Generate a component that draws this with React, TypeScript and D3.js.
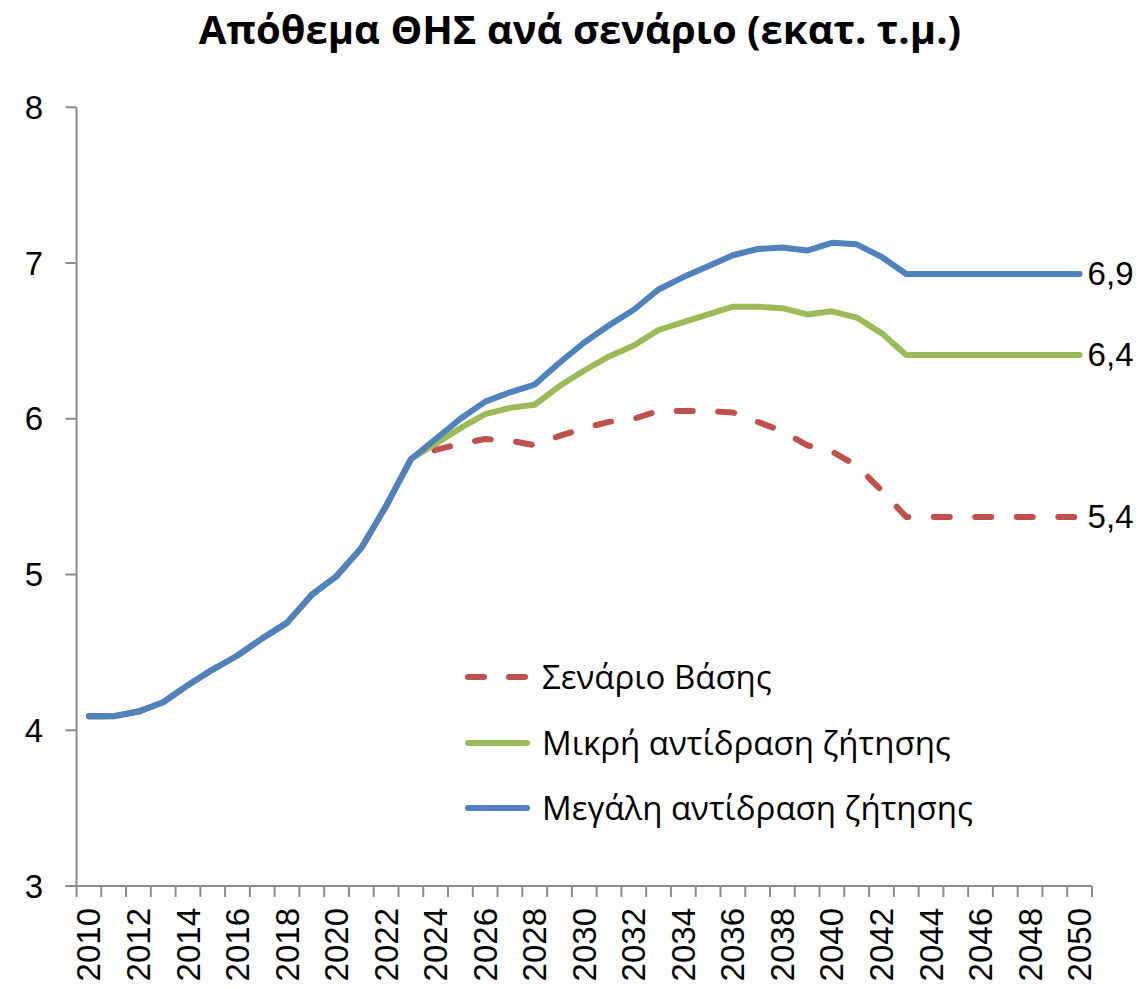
import React from "react";
import * as d3 from "d3";

const years: number[] = [
  2010, 2011, 2012, 2013, 2014, 2015, 2016, 2017, 2018, 2019,
  2020, 2021, 2022, 2023, 2024, 2025, 2026, 2027, 2028, 2029,
  2030, 2031, 2032, 2033, 2034, 2035, 2036, 2037, 2038, 2039,
  2040, 2041, 2042, 2043, 2044, 2045, 2046, 2047, 2048, 2049, 2050,
];

const baseScenario: number[] = [
  4.09, 4.09, 4.12, 4.18, 4.29, 4.39, 4.48, 4.59, 4.69, 4.87,
  4.99, 5.17, 5.44, 5.74, 5.80, 5.84, 5.87, 5.86, 5.83, 5.89,
  5.94, 5.98, 6.00, 6.05, 6.05, 6.05, 6.04, 5.98, 5.92, 5.83,
  5.79, 5.70, 5.54, 5.37, 5.37, 5.37, 5.37, 5.37, 5.37, 5.37, 5.37,
];

const smallResponse: number[] = [
  4.09, 4.09, 4.12, 4.18, 4.29, 4.39, 4.48, 4.59, 4.69, 4.87,
  4.99, 5.17, 5.44, 5.74, 5.84, 5.94, 6.03, 6.07, 6.09, 6.21,
  6.31, 6.40, 6.47, 6.57, 6.62, 6.67, 6.72, 6.72, 6.71, 6.67,
  6.69, 6.65, 6.55, 6.41, 6.41, 6.41, 6.41, 6.41, 6.41, 6.41, 6.41,
];

const largeResponse: number[] = [
  4.09, 4.09, 4.12, 4.18, 4.29, 4.39, 4.48, 4.59, 4.69, 4.87,
  4.99, 5.17, 5.44, 5.74, 5.87, 6.00, 6.11, 6.17, 6.22, 6.36,
  6.49, 6.60, 6.70, 6.83, 6.91, 6.98, 7.05, 7.09, 7.10, 7.08,
  7.13, 7.12, 7.04, 6.93, 6.93, 6.93, 6.93, 6.93, 6.93, 6.93, 6.93,
];

const seriesNames: string[] = [
  "Σενάριο Βάσης",
  "Μικρή αντίδραση ζήτησης",
  "Μεγάλη αντίδραση ζήτησης",
];
const endLabels: string[] = ["5,4", "6,4", "6,9"];
const yTicks: number[] = [3, 4, 5, 6, 7, 8];
const title = "Απόθεμα ΘΗΣ ανά σενάριο (εκατ. τ.μ.)";

const colors = ["#C0504D", "#9BBB59", "#4F81BD"];
const dashes = ["16 25.5", null, null];

const W = 1145;
const H = 989;
const plot = { left: 76.5, right: 1092, top: 107.3, bottom: 886 };
const axisColor = "#8C8C8C";
const numFont = "'Liberation Sans', Arial, sans-serif";
const titleFont = "'Open Sans', 'Liberation Sans', sans-serif";
const legendFont = "'Open Sans', 'Noto Sans', sans-serif";

export default function App() {
  const x = d3
    .scaleBand<number>()
    .domain(years)
    .range([plot.left, plot.right])
    .paddingInner(0)
    .paddingOuter(0);
  const cx = (yr: number) => (x(yr) as number) + x.bandwidth() / 2;
  const y = d3.scaleLinear().domain([3, 8]).range([plot.bottom, plot.top]);

  const allSeries = [baseScenario, smallResponse, largeResponse];
  const line = d3
    .line<number>()
    .x((_, i) => cx(years[i]))
    .y((v) => y(v));

  const boundaries = years.map((yr) => x(yr) as number).concat([plot.right]);
  const legendRows = [677, 743, 808];

  return (
    <svg
      width={W}
      height={H}
      style={{ position: "absolute", left: 0, top: 0, background: "#fff" }}
    >
      <rect x={0} y={0} width={W} height={H} fill="#fff" />
      <text
        x={580}
        y={44}
        textAnchor="middle"
        fontFamily={titleFont}
        fontWeight="bold"
        fontSize={40}
        fill="#000"
      >
        {title}
      </text>

      {/* y axis */}
      <line
        x1={plot.left}
        x2={plot.left}
        y1={plot.top}
        y2={plot.bottom}
        stroke={axisColor}
        strokeWidth={2}
      />
      {yTicks.map((t) => (
        <g key={t}>
          <line
            x1={plot.left - 11}
            x2={plot.left}
            y1={y(t)}
            y2={y(t)}
            stroke={axisColor}
            strokeWidth={2}
          />
          <text
            x={43}
            y={y(t)}
            dy="0.35em"
            textAnchor="end"
            fontFamily={numFont}
            fontSize={33}
            fill="#000"
          >
            {t}
          </text>
        </g>
      ))}

      {/* x axis */}
      <line
        x1={plot.left - 11}
        x2={plot.right}
        y1={plot.bottom}
        y2={plot.bottom}
        stroke={axisColor}
        strokeWidth={2}
      />
      {boundaries.map((bx, i) => (
        <line
          key={i}
          x1={bx}
          x2={bx}
          y1={plot.bottom}
          y2={plot.bottom + 11}
          stroke={axisColor}
          strokeWidth={2}
        />
      ))}
      {years
        .filter((yr) => yr % 2 === 0)
        .map((yr) => (
          <text
            key={yr}
            transform={`translate(${cx(yr)},${plot.bottom + 22}) rotate(-90)`}
            dy="0.35em"
            textAnchor="end"
            fontFamily={numFont}
            fontSize={33}
            fill="#000"
          >
            {yr}
          </text>
        ))}

      {/* series */}
      {allSeries.map((s, k) => (
        <path
          key={k}
          d={line(s) || ""}
          fill="none"
          stroke={colors[k]}
          strokeWidth={6}
          strokeLinecap="round"
          strokeLinejoin="round"
          strokeDasharray={dashes[k] || undefined}
        />
      ))}

      {/* end labels */}
      {allSeries.map((s, k) => (
        <text
          key={k}
          x={cx(years[years.length - 1]) + 8}
          y={y(s[s.length - 1])}
          dy="0.35em"
          fontFamily={numFont}
          fontSize={33}
          fill="#000"
        >
          {endLabels[k]}
        </text>
      ))}

      {/* legend */}
      {seriesNames.map((name, k) => (
        <g key={name}>
          <line
            x1={468}
            x2={527}
            y1={legendRows[k]}
            y2={legendRows[k]}
            stroke={colors[k]}
            strokeWidth={6}
            strokeLinecap="round"
            strokeDasharray={k === 0 ? "16 25" : undefined}
          />
          <text
            x={542}
            y={legendRows[k]}
            dy="0.35em"
            fontFamily={legendFont}
            fontSize={33}
            fill="#000"
          >
            {name}
          </text>
        </g>
      ))}
    </svg>
  );
}
